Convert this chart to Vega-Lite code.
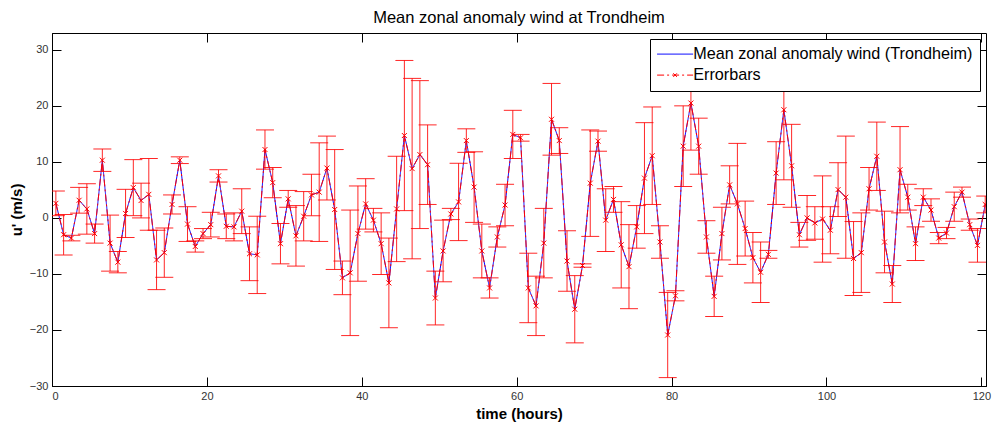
{
"$schema": "https://vega.github.io/schema/vega-lite/v6.json",
"width": 934, "height": 353,
"autosize": {"type": "none"},
"padding": {"left": 52, "top": 33, "right": 6, "bottom": 42},
"background": "white",
"title": {"text": "Mean zonal anomaly wind at Trondheim", "fontSize": 16.5, "fontWeight": "normal", "font": "Liberation Sans", "color": "black", "anchor": "middle", "offset": 6},
"config": {
 "view": {"stroke": "black", "strokeWidth": 1},
 "axis": {"domainColor": "black", "tickColor": "black", "labelColor": "#333333", "labelFont": "Liberation Sans", "labelFontSize": 11, "titleFont": "Liberation Sans", "titleFontSize": 15, "titleFontWeight": "bold", "titleColor": "black", "grid": false, "tickSize": -9, "labelPadding": 13}
},
"data": {"values": [
{"t":0.5,"u":2.6,"lo":0.4,"hi":4.8},
{"t":1.5,"u":-3.0,"lo":-6.6,"hi":0.6},
{"t":2.5,"u":-3.6,"lo":-4.1,"hi":-3.1},
{"t":3.5,"u":3.15,"lo":0.85,"hi":5.45},
{"t":4.5,"u":1.6,"lo":-2.9,"hi":6.1},
{"t":5.5,"u":-2.8,"lo":-4.5,"hi":-1.1},
{"t":6.5,"u":10.3,"lo":8.3,"hi":12.3},
{"t":7.5,"u":-4.5,"lo":-9.5,"hi":0.5},
{"t":8.5,"u":-7.9,"lo":-9.8,"hi":-6.0},
{"t":9.5,"u":0.8,"lo":-3.5,"hi":5.1},
{"t":10.5,"u":5.4,"lo":0.4,"hi":10.4},
{"t":11.5,"u":3.1,"lo":0.0,"hi":6.2},
{"t":12.5,"u":4.2,"lo":-2.2,"hi":10.6},
{"t":13.5,"u":-7.5,"lo":-12.8,"hi":-2.2},
{"t":14.5,"u":-6.2,"lo":-10.6,"hi":-1.8},
{"t":15.5,"u":2.4,"lo":0.7,"hi":4.1},
{"t":16.5,"u":10.3,"lo":9.7,"hi":10.9},
{"t":17.5,"u":-1.1,"lo":-4.2,"hi":2.0},
{"t":18.5,"u":-5.1,"lo":-6.1,"hi":-4.1},
{"t":19.5,"u":-2.8,"lo":-3.7,"hi":-1.9},
{"t":20.5,"u":-1.2,"lo":-3.4,"hi":1.0},
{"t":21.5,"u":7.5,"lo":6.4,"hi":8.6},
{"t":22.5,"u":-1.5,"lo":-3.7,"hi":0.7},
{"t":23.5,"u":-1.6,"lo":-4.1,"hi":0.9},
{"t":24.5,"u":1.2,"lo":-2.8,"hi":5.2},
{"t":25.5,"u":-6.4,"lo":-11.2,"hi":-1.6},
{"t":26.5,"u":-6.6,"lo":-13.5,"hi":0.3},
{"t":27.5,"u":12.2,"lo":8.7,"hi":15.7},
{"t":28.5,"u":6.3,"lo":3.6,"hi":9.0},
{"t":29.5,"u":-4.6,"lo":-8.2,"hi":-1.0},
{"t":30.5,"u":3.4,"lo":1.9,"hi":4.9},
{"t":31.5,"u":-3.2,"lo":-8.6,"hi":2.2},
{"t":32.5,"u":0.3,"lo":-4.1,"hi":4.7},
{"t":33.5,"u":4.1,"lo":0.4,"hi":7.8},
{"t":34.5,"u":4.6,"lo":-4.2,"hi":13.4},
{"t":35.5,"u":8.9,"lo":3.2,"hi":14.6},
{"t":36.5,"u":1.5,"lo":-9.2,"hi":12.2},
{"t":37.5,"u":-10.7,"lo":-13.7,"hi":-7.7},
{"t":38.5,"u":-9.8,"lo":-21.0,"hi":1.4},
{"t":39.5,"u":-2.8,"lo":-11.3,"hi":5.7},
{"t":40.5,"u":2.5,"lo":-2.0,"hi":7.0},
{"t":41.5,"u":-0.4,"lo":-2.5,"hi":1.7},
{"t":42.5,"u":-4.6,"lo":-10.1,"hi":0.9},
{"t":43.5,"u":-11.6,"lo":-19.6,"hi":-3.6},
{"t":44.5,"u":1.6,"lo":-7.8,"hi":11.0},
{"t":45.5,"u":14.7,"lo":1.3,"hi":28.1},
{"t":46.5,"u":8.8,"lo":-7.3,"hi":24.9},
{"t":47.5,"u":11.3,"lo":-1.9,"hi":24.5},
{"t":48.5,"u":9.5,"lo":2.4,"hi":16.6},
{"t":49.5,"u":-14.3,"lo":-19.1,"hi":-9.5},
{"t":50.5,"u":-5.9,"lo":-11.4,"hi":-0.4},
{"t":51.5,"u":0.7,"lo":-0.3,"hi":1.7},
{"t":52.5,"u":2.85,"lo":-4.05,"hi":9.75},
{"t":53.5,"u":13.8,"lo":11.7,"hi":15.9},
{"t":54.5,"u":5.5,"lo":-0.8,"hi":11.8},
{"t":55.5,"u":-5.9,"lo":-10.7,"hi":-1.1},
{"t":56.5,"u":-12.5,"lo":-14.3,"hi":-10.7},
{"t":57.5,"u":-3.4,"lo":-5.2,"hi":-1.6},
{"t":58.5,"u":2.3,"lo":-1.4,"hi":6.0},
{"t":59.5,"u":14.9,"lo":10.6,"hi":19.2},
{"t":60.5,"u":14.3,"lo":13.7,"hi":14.9},
{"t":61.5,"u":-12.5,"lo":-18.7,"hi":-6.3},
{"t":62.5,"u":-15.7,"lo":-21.0,"hi":-10.4},
{"t":63.5,"u":-4.5,"lo":-10.7,"hi":1.7},
{"t":64.5,"u":17.6,"lo":11.2,"hi":24.0},
{"t":65.5,"u":13.8,"lo":11.5,"hi":16.1},
{"t":66.5,"u":-7.7,"lo":-13.1,"hi":-2.3},
{"t":67.5,"u":-16.3,"lo":-22.3,"hi":-10.3},
{"t":68.5,"u":-8.5,"lo":-8.8,"hi":-8.2},
{"t":69.5,"u":6.2,"lo":-3.3,"hi":15.7},
{"t":70.5,"u":13.7,"lo":11.9,"hi":15.5},
{"t":71.5,"u":-0.4,"lo":-6.0,"hi":5.2},
{"t":72.5,"u":3.3,"lo":1.0,"hi":5.6},
{"t":73.5,"u":-4.8,"lo":-12.5,"hi":2.9},
{"t":74.5,"u":-8.7,"lo":-16.2,"hi":-1.2},
{"t":75.5,"u":-1.6,"lo":-5.4,"hi":2.2},
{"t":76.5,"u":7.1,"lo":-2.8,"hi":17.0},
{"t":77.5,"u":11.1,"lo":2.4,"hi":19.8},
{"t":78.5,"u":-4.3,"lo":-7.2,"hi":-1.4},
{"t":79.5,"u":-20.9,"lo":-28.5,"hi":-13.3},
{"t":80.5,"u":-13.9,"lo":-14.8,"hi":-13.0},
{"t":81.5,"u":12.8,"lo":5.6,"hi":20.0},
{"t":82.5,"u":20.5,"lo":12.1,"hi":28.9},
{"t":83.5,"u":12.8,"lo":7.8,"hi":17.8},
{"t":84.5,"u":-3.4,"lo":-6.3,"hi":-0.5},
{"t":85.5,"u":-14.0,"lo":-17.6,"hi":-10.4},
{"t":86.5,"u":-2.8,"lo":-7.5,"hi":1.9},
{"t":87.5,"u":5.9,"lo":2.5,"hi":9.3},
{"t":88.5,"u":2.5,"lo":-8.3,"hi":13.3},
{"t":89.5,"u":-1.9,"lo":-6.8,"hi":3.0},
{"t":90.5,"u":-7.1,"lo":-11.6,"hi":-2.6},
{"t":91.5,"u":-9.7,"lo":-15.1,"hi":-4.3},
{"t":92.5,"u":-6.5,"lo":-7.2,"hi":-5.8},
{"t":93.5,"u":8.0,"lo":2.4,"hi":13.6},
{"t":94.5,"u":19.3,"lo":6.8,"hi":31.8},
{"t":95.5,"u":9.3,"lo":1.9,"hi":16.7},
{"t":96.5,"u":-3.0,"lo":-5.2,"hi":-0.8},
{"t":97.5,"u":0.0,"lo":-4.0,"hi":4.0},
{"t":98.5,"u":-0.9,"lo":-3.8,"hi":2.0},
{"t":99.5,"u":-0.2,"lo":-7.9,"hi":7.5},
{"t":100.5,"u":-2.2,"lo":-6.4,"hi":2.0},
{"t":101.5,"u":5.05,"lo":0.25,"hi":9.85},
{"t":102.5,"u":3.7,"lo":-7.2,"hi":14.6},
{"t":103.5,"u":-7.25,"lo":-13.85,"hi":-0.65},
{"t":104.5,"u":-6.2,"lo":-13.3,"hi":0.9},
{"t":105.5,"u":5.2,"lo":1.4,"hi":9.0},
{"t":106.5,"u":11.0,"lo":4.9,"hi":17.1},
{"t":107.5,"u":-4.3,"lo":-9.8,"hi":1.2},
{"t":108.5,"u":-11.8,"lo":-15.1,"hi":-8.5},
{"t":109.5,"u":8.6,"lo":0.9,"hi":16.3},
{"t":110.5,"u":3.7,"lo":1.4,"hi":6.0},
{"t":111.5,"u":-4.6,"lo":-7.6,"hi":-1.6},
{"t":112.5,"u":3.7,"lo":2.2,"hi":5.2},
{"t":113.5,"u":1.4,"lo":-0.6,"hi":3.4},
{"t":114.5,"u":-3.6,"lo":-4.6,"hi":-2.6},
{"t":115.5,"u":-2.7,"lo":-3.7,"hi":-1.7},
{"t":116.5,"u":2.0,"lo":-0.6,"hi":4.6},
{"t":117.5,"u":4.6,"lo":3.7,"hi":5.5},
{"t":118.5,"u":-1.2,"lo":-2.2,"hi":-0.2},
{"t":119.5,"u":-4.9,"lo":-7.9,"hi":-1.9},
{"t":120.5,"u":2.4,"lo":0.9,"hi":3.9}
]},
"layer": [
 {"mark": {"type": "line", "strokeWidth": 1, "clip": true},
  "encoding": {
   "x": {"field": "t", "type": "quantitative", "scale": {"domain": [0, 120.6], "nice": false, "zero": false}, "axis": {"orient": "bottom", "values": [0,20,40,60,80,100,120], "title": "time (hours)", "titlePadding": 5}},
   "y": {"field": "u", "type": "quantitative", "scale": {"domain": [-30, 33], "nice": false, "zero": false}, "axis": {"orient": "left", "values": [-30,-20,-10,0,10,20,30], "title": "u' (m/s)", "titlePadding": 5}},
   "color": {"datum": "Mean zonal anomaly wind (Trondheim)", "type": "nominal", "scale": {"domain": ["Mean zonal anomaly wind (Trondheim)", "Errorbars"], "range": ["#0000ff", "#ff0000"]},
     "legend": {"title": null, "orient": "top-right", "offset": 6, "fillColor": "white", "strokeColor": "black", "padding": 7, "labelFont": "Liberation Sans", "labelFontSize": 16.2, "labelColor": "black", "symbolType": "M-3,0L3,0", "symbolSize": 144, "symbolStrokeWidth": 1, "rowPadding": 4, "labelOffset": 10, "symbolOffset": 10, "labelLimit": 400,
       "encode": {"symbols": {"update": {
         "strokeDash": {"signal": "datum.label == 'Errorbars' ? [6,3,2,3] : [1,0]"},
         "shape": {"signal": "datum.label == 'Errorbars' ? 'M-3,0L3,0M-0.3,-0.3L0.3,0.3M-0.3,0.3L0.3,-0.3' : 'M-3,0L3,0'"}
       }}}}},
   "strokeDash": {"datum": "Mean zonal anomaly wind (Trondheim)", "type": "nominal", "scale": {"domain": ["Mean zonal anomaly wind (Trondheim)", "Errorbars"], "range": [[1,0],[7,3,2,3]]}, "legend": null}
  }},
 {"mark": {"type": "line", "strokeWidth": 1, "clip": true},
  "encoding": {
   "x": {"field": "t", "type": "quantitative", "axis": null},
   "y": {"field": "u", "type": "quantitative", "axis": null},
   "color": {"datum": "Errorbars", "type": "nominal"},
   "strokeDash": {"datum": "Errorbars", "type": "nominal", "legend": null}
  }},
 {"mark": {"type": "rule", "color": "#ff0000", "strokeWidth": 1, "opacity": 0.85, "clip": true},
  "encoding": {
   "x": {"field": "t", "type": "quantitative", "axis": null},
   "y": {"field": "lo", "type": "quantitative", "axis": null},
   "y2": {"field": "hi"}
  }},
 {"mark": {"type": "tick", "orient": "horizontal", "size": 18, "thickness": 1, "color": "#ff0000", "opacity": 0.85, "clip": true},
  "encoding": {
   "x": {"field": "t", "type": "quantitative", "axis": {"orient": "top", "values": [0,20,40,60,80,100,120], "labels": false, "title": null, "domain": false}},
   "y": {"field": "hi", "type": "quantitative", "axis": {"orient": "right", "values": [-30,-20,-10,0,10,20,30], "labels": false, "title": null, "domain": false}}
  }},
 {"mark": {"type": "tick", "orient": "horizontal", "size": 18, "thickness": 1, "color": "#ff0000", "opacity": 0.85, "clip": true},
  "encoding": {
   "x": {"field": "t", "type": "quantitative", "axis": null},
   "y": {"field": "lo", "type": "quantitative", "axis": null}
  }},
 {"mark": {"type": "point", "shape": "M-1,-1L1,1M-1,1L1,-1", "size": 25, "filled": false, "color": "#ff0000", "strokeWidth": 1, "opacity": 1, "clip": true},
  "encoding": {
   "x": {"field": "t", "type": "quantitative", "axis": null},
   "y": {"field": "u", "type": "quantitative", "axis": null}
  }}
],
"resolve": {"axis": {"x": "independent", "y": "independent"}}
}
